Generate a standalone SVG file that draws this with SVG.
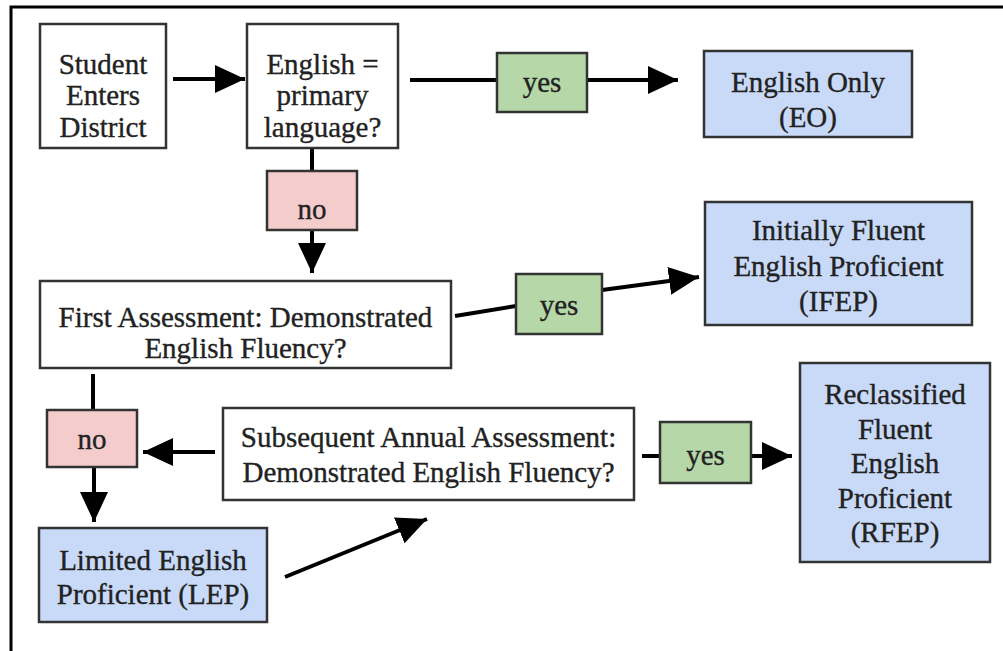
<svg xmlns="http://www.w3.org/2000/svg" width="1003" height="651" viewBox="0 0 1003 651">
<style>
  .box { stroke: #333; stroke-width: 2.5; }
  .white { fill: #ffffff; }
  .blue { fill: #c9daf8; }
  .green { fill: #b6d7a8; }
  .pink { fill: #f4cccc; }
  text { font-family: "Liberation Serif", "Times New Roman", serif; font-size: 29px; fill: #222; stroke: #222; stroke-width: 0.35; text-anchor: middle; }
  .conn { stroke: #000; stroke-width: 4; fill: none; }
</style>
<defs>
  <marker id="ah" markerUnits="userSpaceOnUse" markerWidth="32" markerHeight="28" refX="30" refY="14" orient="auto">
    <path d="M0,0 L30,14 L0,28 Z" fill="#000"/>
  </marker>
</defs>
<rect x="0" y="0" width="1003" height="651" fill="#fff"/>
<path d="M11,651 V7 H1003" stroke="#000" stroke-width="3" fill="none"/>

<g id="connectors">
  <line class="conn" x1="173" y1="79" x2="245" y2="79" marker-end="url(#ah)"/>
  <line class="conn" x1="410" y1="80" x2="497" y2="80"/>
  <line class="conn" x1="587" y1="80" x2="678" y2="80" marker-end="url(#ah)"/>
  <line class="conn" x1="312" y1="148" x2="312" y2="171"/>
  <line class="conn" x1="312" y1="230" x2="312" y2="273" marker-end="url(#ah)"/>
  <line class="conn" x1="455" y1="316" x2="516" y2="306"/>
  <line class="conn" x1="602" y1="290" x2="699" y2="277" marker-end="url(#ah)"/>
  <line class="conn" x1="93" y1="374" x2="93" y2="410"/>
  <line class="conn" x1="94" y1="467" x2="94" y2="522" marker-end="url(#ah)"/>
  <line class="conn" x1="215" y1="452" x2="143" y2="452" marker-end="url(#ah)"/>
  <line class="conn" x1="285" y1="577" x2="427" y2="519" marker-end="url(#ah)"/>
  <line class="conn" x1="642" y1="456" x2="660" y2="456"/>
  <line class="conn" x1="751" y1="456" x2="792" y2="456" marker-end="url(#ah)"/>
</g>

<g id="student">
  <rect class="box white" x="40" y="24" width="126" height="124"/>
  <text x="103" y="74">Student</text>
  <text x="103" y="105">Enters</text>
  <text x="103" y="137">District</text>
</g>
<g id="english-primary">
  <rect class="box white" x="247" y="24" width="151" height="124"/>
  <text x="322.5" y="74">English =</text>
  <text x="322.5" y="105">primary</text>
  <text x="322.5" y="137">language?</text>
</g>
<g id="yes1">
  <rect class="box green" x="497" y="53" width="90" height="59"/>
  <text x="542" y="92">yes</text>
</g>
<g id="eo">
  <rect class="box blue" x="704" y="51" width="208" height="86"/>
  <text x="808" y="92">English Only</text>
  <text x="808" y="127">(EO)</text>
</g>
<g id="no1">
  <rect class="box pink" x="267" y="171" width="90" height="59"/>
  <text x="312" y="219">no</text>
</g>
<g id="first-assessment">
  <rect class="box white" x="40" y="281" width="411" height="87"/>
  <text x="245.5" y="327">First Assessment: Demonstrated</text>
  <text x="245.5" y="358">English Fluency?</text>
</g>
<g id="yes2">
  <rect class="box green" x="516" y="274" width="86" height="60"/>
  <text x="559" y="315">yes</text>
</g>
<g id="ifep">
  <rect class="box blue" x="705" y="202" width="267" height="123"/>
  <text x="838.5" y="240">Initially Fluent</text>
  <text x="838.5" y="276">English Proficient</text>
  <text x="838.5" y="311">(IFEP)</text>
</g>
<g id="no2">
  <rect class="box pink" x="47" y="410" width="90" height="57"/>
  <text x="92" y="449">no</text>
</g>
<g id="subsequent">
  <rect class="box white" x="223" y="408" width="411" height="92"/>
  <text x="428.5" y="447">Subsequent Annual Assessment:</text>
  <text x="428.5" y="482">Demonstrated English Fluency?</text>
</g>
<g id="lep">
  <rect class="box blue" x="39" y="528" width="228" height="94"/>
  <text x="153" y="570">Limited English</text>
  <text x="153" y="604">Proficient (LEP)</text>
</g>
<g id="yes3">
  <rect class="box green" x="660" y="422" width="91" height="61"/>
  <text x="705.5" y="465">yes</text>
</g>
<g id="rfep">
  <rect class="box blue" x="800" y="363" width="190" height="199"/>
  <text x="895" y="404">Reclassified</text>
  <text x="895" y="439">Fluent</text>
  <text x="895" y="473">English</text>
  <text x="895" y="508">Proficient</text>
  <text x="895" y="542">(RFEP)</text>
</g>
</svg>
